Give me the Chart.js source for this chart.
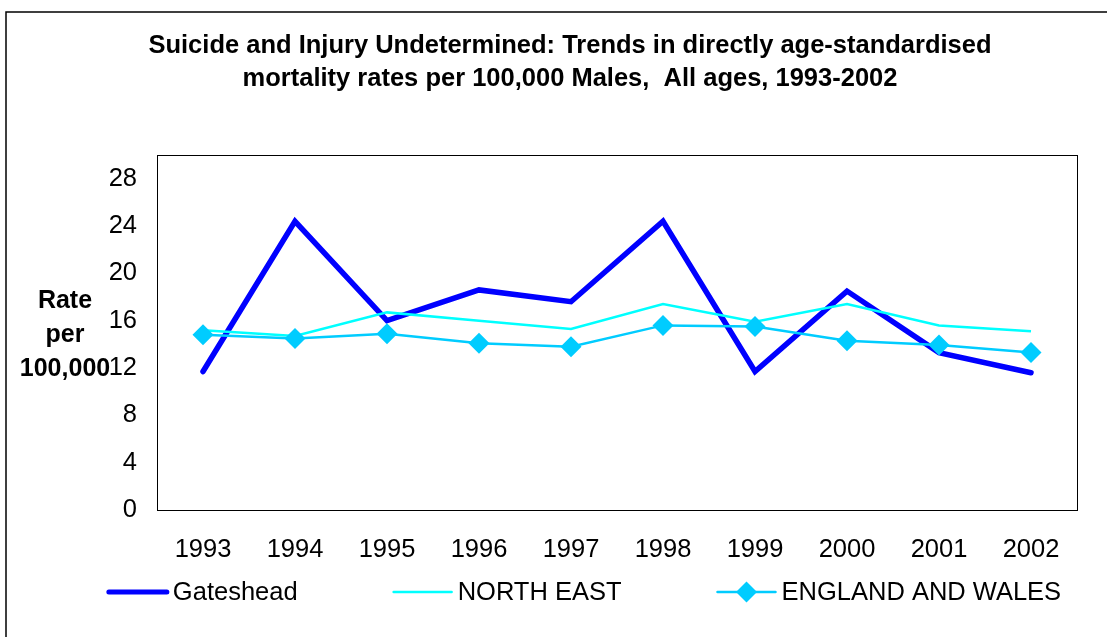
<!DOCTYPE html>
<html>
<head>
<meta charset="utf-8">
<script src="https://cdn.jsdelivr.net/npm/chart.js@4/dist/chart.umd.min.js"></script>
<style>
  html, body { margin: 0; padding: 0; background: #fff; overflow: hidden; }
  #wrap { width: 1107px; height: 637px; }
</style>
</head>
<body>
<div id="wrap"><canvas id="myChart" width="1107" height="637"></canvas></div>
<script>
let years = ['1993', '1994', '1995', '1996', '1997', '1998', '1999', '2000', '2001', '2002']
let gateshead = [11.7, 24.4, 16.0, 18.6, 17.6, 24.4, 11.7, 18.5, 13.3, 11.6]
let northEast = [15.2, 14.7, 16.7, 16.0, 15.3, 17.4, 15.9, 17.4, 15.6, 15.1]
let englandWales = [14.8, 14.5, 14.9, 14.1, 13.8, 15.6, 15.5, 14.3, 13.95, 13.3]
let yTickValues = [0, 4, 8, 12, 16, 20, 24, 28]

let titleLines = [
  'Suicide and Injury Undetermined: Trends in directly age-standardised',
  'mortality rates per 100,000 Males,  All ages, 1993-2002'
]
let yTitleLines = ['Rate', 'per', '100,000']

let fontFamily = '"Liberation Sans", Arial, sans-serif'
let textSize = 25.5
let titleCenter = 570
let legendCenter = 585

// title, y title, frame, plot border and legend are drawn by hand
let decorations = {
  id: 'decorations',
  beforeDraw(chart) {
    let c = chart.ctx
    c.save()
    c.fillStyle = '#fff'
    c.fillRect(0, 0, chart.width, chart.height)
    c.strokeStyle = '#000'
    c.lineWidth = 1.5
    c.strokeRect(6, 12, chart.width + 40, chart.height + 40)
    c.restore()
  },
  afterDraw(chart) {
    let c = chart.ctx
    let area = chart.chartArea
    c.save()
    c.strokeStyle = '#000'
    c.lineWidth = 1
    c.strokeRect(Math.round(area.left) + 0.5, Math.round(area.top) + 0.5,
      Math.round(area.right - area.left), Math.round(area.bottom - area.top))

    c.fillStyle = '#000'
    c.textAlign = 'center'
    c.textBaseline = 'middle'
    c.font = 'bold ' + textSize + 'px ' + fontFamily
    titleLines.forEach((t, i) => c.fillText(t, titleCenter, 46 + i * 33))

    c.font = 'bold 25px ' + fontFamily
    yTitleLines.forEach((t, i) => c.fillText(t, 65, 301 + i * 34))

    // legend
    let items = [
      { label: 'Gateshead', color: '#0000FF', width: 5, marker: false },
      { label: 'NORTH EAST', color: '#00FFFF', width: 2.5, marker: false },
      { label: 'ENGLAND AND WALES', color: '#00CCFF', width: 2.5, marker: true }
    ]
    c.font = textSize + 'px ' + fontFamily
    let lineLen = 58, gapText = 6, gapItem = 96
    let total = 0
    items.forEach((it, i) => {
      it.tw = c.measureText(it.label).width
      total += lineLen + gapText + it.tw + (i < items.length - 1 ? gapItem : 0)
    })
    let x = legendCenter - total / 2
    let ly = 592
    c.textAlign = 'left'
    items.forEach(it => {
      c.strokeStyle = it.color
      c.lineWidth = it.width
      c.lineCap = 'round'
      c.beginPath()
      c.moveTo(x, ly)
      c.lineTo(x + lineLen, ly)
      c.stroke()
      if (it.marker) {
        let mx = x + lineLen / 2, r = 10.5
        c.fillStyle = it.color
        c.beginPath()
        c.moveTo(mx - r, ly)
        c.lineTo(mx, ly - r)
        c.lineTo(mx + r, ly)
        c.lineTo(mx, ly + r)
        c.closePath()
        c.fill()
      }
      c.fillStyle = '#000'
      c.fillText(it.label, x + lineLen + gapText, ly + 1)
      x += lineLen + gapText + it.tw + gapItem
    })
    c.restore()
  }
}

let ctx = document.getElementById('myChart').getContext('2d')

let myChart = new Chart(ctx, {
  type: 'line',
  data: {
    labels: years,
    datasets: [
      {
        label: 'Gateshead',
        data: gateshead,
        borderColor: '#0000FF',
        backgroundColor: '#0000FF',
        borderWidth: 5.5,
        borderCapStyle: 'round',
        pointRadius: 0,
        tension: 0,
        order: 3
      },
      {
        label: 'NORTH EAST',
        data: northEast,
        borderColor: '#00FFFF',
        backgroundColor: '#00FFFF',
        borderWidth: 2.5,
        pointRadius: 0,
        tension: 0,
        order: 2
      },
      {
        label: 'ENGLAND AND WALES',
        data: englandWales,
        borderColor: '#00CCFF',
        backgroundColor: '#00CCFF',
        borderWidth: 2.5,
        pointStyle: 'rectRot',
        pointRadius: 10.5,
        pointBorderWidth: 0,
        pointBackgroundColor: '#00CCFF',
        tension: 0,
        order: 1
      }
    ]
  },
  options: {
    responsive: false,
    animation: false,
    layout: { padding: { top: 155, right: 30, left: 0, bottom: 0 } },
    plugins: {
      legend: { display: false },
      title: { display: false },
      tooltip: { enabled: false }
    },
    scales: {
      x: {
        offset: true,
        grid: { display: false, drawTicks: false },
        border: { display: false },
        ticks: { color: '#000', padding: 25, font: { family: fontFamily, size: textSize } },
        afterFit: s => { s.height = 127 }
      },
      y: {
        min: 0,
        max: 30,
        grid: { display: false, drawTicks: false },
        border: { display: false },
        ticks: { color: '#000', padding: 20, stepSize: 4, font: { family: fontFamily, size: textSize } },
        afterBuildTicks: s => { s.ticks = yTickValues.map(v => ({ value: v })) },
        afterFit: s => { s.width = 157 }
      }
    }
  },
  plugins: [decorations]
})
</script>
</body>
</html>
